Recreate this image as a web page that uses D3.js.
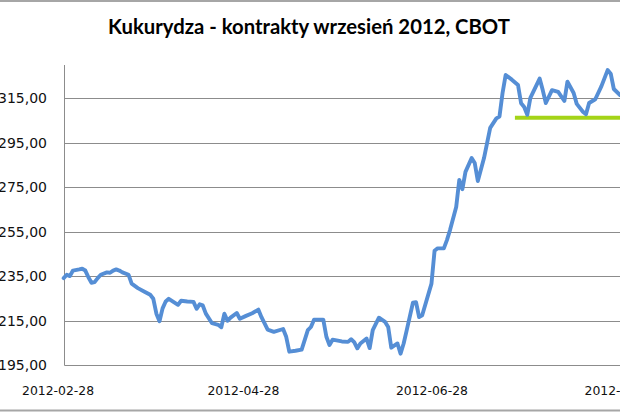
<!DOCTYPE html>
<html><head><meta charset="utf-8">
<script src="https://cdn.jsdelivr.net/npm/d3@7/dist/d3.min.js"></script>
<style>html,body{margin:0;padding:0;background:#fff;overflow:hidden}</style>
</head><body>
<svg id="c" width="620" height="413"></svg>
<script>
const title = "Kukurydza - kontrakty wrzesień 2012, CBOT";

const dates = [
"2012-03-01","2012-03-02","2012-03-03","2012-03-04","2012-03-06","2012-03-07","2012-03-08","2012-03-09","2012-03-10","2012-03-11",
"2012-03-12","2012-03-13","2012-03-15","2012-03-16","2012-03-17","2012-03-18","2012-03-19","2012-03-20","2012-03-22","2012-03-23",
"2012-03-25","2012-03-27","2012-03-29","2012-03-30","2012-03-31","2012-04-01","2012-04-02","2012-04-03","2012-04-04","2012-04-07",
"2012-04-08","2012-04-10","2012-04-12","2012-04-13","2012-04-14","2012-04-15","2012-04-16","2012-04-18","2012-04-20","2012-04-21",
"2012-04-22","2012-04-23","2012-04-24","2012-04-26","2012-04-27","2012-04-29","2012-05-01","2012-05-03","2012-05-04","2012-05-05",
"2012-05-06","2012-05-08","2012-05-11","2012-05-12","2012-05-13","2012-05-15","2012-05-17","2012-05-19","2012-05-20","2012-05-21",
"2012-05-24","2012-05-25","2012-05-26","2012-05-27","2012-05-30","2012-06-01","2012-06-02","2012-06-03","2012-06-04","2012-06-05",
"2012-06-07","2012-06-08","2012-06-09","2012-06-11","2012-06-13","2012-06-14","2012-06-15","2012-06-17","2012-06-18","2012-06-19",
"2012-06-20","2012-06-22","2012-06-23","2012-06-24","2012-06-25","2012-06-28","2012-06-29","2012-06-30","2012-07-02","2012-07-03",
"2012-07-04","2012-07-06","2012-07-07","2012-07-08","2012-07-09","2012-07-11","2012-07-12","2012-07-13","2012-07-15","2012-07-17",
"2012-07-19","2012-07-20","2012-07-21","2012-07-22","2012-07-24","2012-07-26","2012-07-27","2012-07-28","2012-07-29","2012-07-30",
"2012-08-02","2012-08-03","2012-08-04","2012-08-06","2012-08-08","2012-08-10","2012-08-11","2012-08-13","2012-08-14","2012-08-16",
"2012-08-17","2012-08-18","2012-08-20","2012-08-22","2012-08-24","2012-08-25","2012-08-26","2012-08-28"
];

const prices = [
234.1,235.6,235.0,237.5,238.0,238.3,237.5,234.5,232.0,232.3,
234.1,235.6,236.7,236.5,237.5,238.0,237.5,236.7,235.6,231.6,
229.6,228.1,226.6,224.8,218.1,214.7,220.5,223.6,224.8,222.1,
223.9,223.6,223.4,220.3,222.3,221.8,218.1,213.8,213.1,212.0,
218.1,214.9,216.3,218.4,215.8,217.1,218.3,219.9,216.5,213.7,
210.9,209.9,211.2,207.7,201.0,201.4,201.9,210.7,212.1,215.4,
215.4,207.7,204.0,206.4,205.6,205.4,206.6,205.3,202.5,204.7,
206.9,202.6,210.7,216.3,214.4,212.1,202.8,204.7,200.1,204.7,
210.7,223.0,223.3,216.6,217.4,231.6,246.4,247.5,247.5,251.2,
255.7,266.1,278.3,274.1,281.9,288.1,285.9,277.8,288.1,301.7,
306.0,306.8,317.4,325.5,323.4,321.0,312.8,311.1,307.6,315.2,
323.9,318.7,312.9,318.7,317.9,313.8,322.5,317.4,312.5,309.0,
307.8,312.9,314.6,320.5,327.7,326.1,319.2,316.5
];

const yTicks = [195, 215, 235, 255, 275, 295, 315];
const xTicks = ["2012-02-28", "2012-04-28", "2012-06-28", "2012-08-28"];
const levelValue = [306.3];
const levelDates = ["2012-07-25", "2012-09-10"];

const parse = d3.timeParse("%Y-%m-%d");
const fmtX = d3.timeFormat("%Y-%m-%d");
const fmtY = v => d3.format(".2f")(v).replace(".", ",");

const svg = d3.select("#c");
const W = 620, H = 413;
const plotLeft = 64.5, plotBottom = 365, plotTop = 65, plotRight = 640;

const x = d3.scaleTime()
  .domain([parse(xTicks[0]), parse(xTicks[xTicks.length - 1])])
  .range([57.5, 620]);
const y = d3.scaleLinear().domain([195, 330]).range([plotBottom, plotTop]);

// frame lines (top / bottom)
svg.append("rect").attr("x", 0).attr("y", 0).attr("width", W).attr("height", 2).attr("fill", "#a6a6a6");
svg.append("rect").attr("x", 0).attr("y", 409.5).attr("width", W).attr("height", 2).attr("fill", "#a6a6a6");

// title
const t = svg.append("text")
  .attr("x", 309).attr("y", 34)
  .attr("text-anchor", "middle")
  .style("font-family", "Lato, 'Open Sans', sans-serif")
  .style("font-weight", "bold")
  .style("font-size", "17px")
  .attr("fill", "#000")
  .text(title);
const tw = t.node().getComputedTextLength();
t.style("font-size", (17 * 402 / tw).toFixed(2) + "px");

// gridlines
const yAxis = d3.axisLeft(y).tickValues(yTicks).tickSize(0).tickFormat(fmtY);
const gGrid = svg.append("g");
gGrid.selectAll("line").data(yTicks.filter(v => v !== 195)).join("line")
  .attr("x1", plotLeft).attr("x2", plotRight)
  .attr("y1", d => Math.round(y(d)) + 0.5).attr("y2", d => Math.round(y(d)) + 0.5)
  .attr("stroke", "#8c8c8c").attr("stroke-width", 1);

// y axis labels
const gy = svg.append("g").attr("transform", "translate(47,0)").call(yAxis);
gy.select(".domain").remove();
gy.selectAll("text")
  .attr("x", 0)
  .style("font-family", "'DejaVu Sans', sans-serif")
  .style("font-size", "14px")
  .attr("fill", "#111");

// axis lines
svg.append("line").attr("x1", plotLeft).attr("x2", plotLeft).attr("y1", plotTop).attr("y2", plotBottom + 0.5)
  .attr("stroke", "#8c8c8c").attr("stroke-width", 1);
svg.append("line").attr("x1", plotLeft).attr("x2", plotRight).attr("y1", plotBottom + 0.5).attr("y2", plotBottom + 0.5)
  .attr("stroke", "#8c8c8c").attr("stroke-width", 1);

// x axis labels
const xAxis = d3.axisBottom(x).tickValues(xTicks.map(parse)).tickSize(0).tickFormat(fmtX);
const gx = svg.append("g").attr("transform", "translate(0," + (plotBottom + 18) + ")").call(xAxis);
gx.select(".domain").remove();
gx.selectAll("text")
  .style("font-family", "'DejaVu Sans', sans-serif")
  .style("font-size", "12.4px")
  .attr("fill", "#111");

// green level line
svg.append("line")
  .attr("x1", x(parse(levelDates[0]))).attr("x2", x(parse(levelDates[1])))
  .attr("y1", y(levelValue[0])).attr("y2", y(levelValue[0]))
  .attr("stroke", "#a4d418").attr("stroke-width", 4);

// price line
const data = dates.map((d, i) => ({ date: parse(d), v: prices[i] }));
svg.append("path")
  .datum(data)
  .attr("fill", "none")
  .attr("stroke", "#558ed5")
  .attr("stroke-width", 3.9)
  .attr("stroke-linejoin", "round")
  .attr("stroke-linecap", "round")
  .attr("d", d3.line().x(d => x(d.date)).y(d => y(d.v)));
</script>
</body></html>
